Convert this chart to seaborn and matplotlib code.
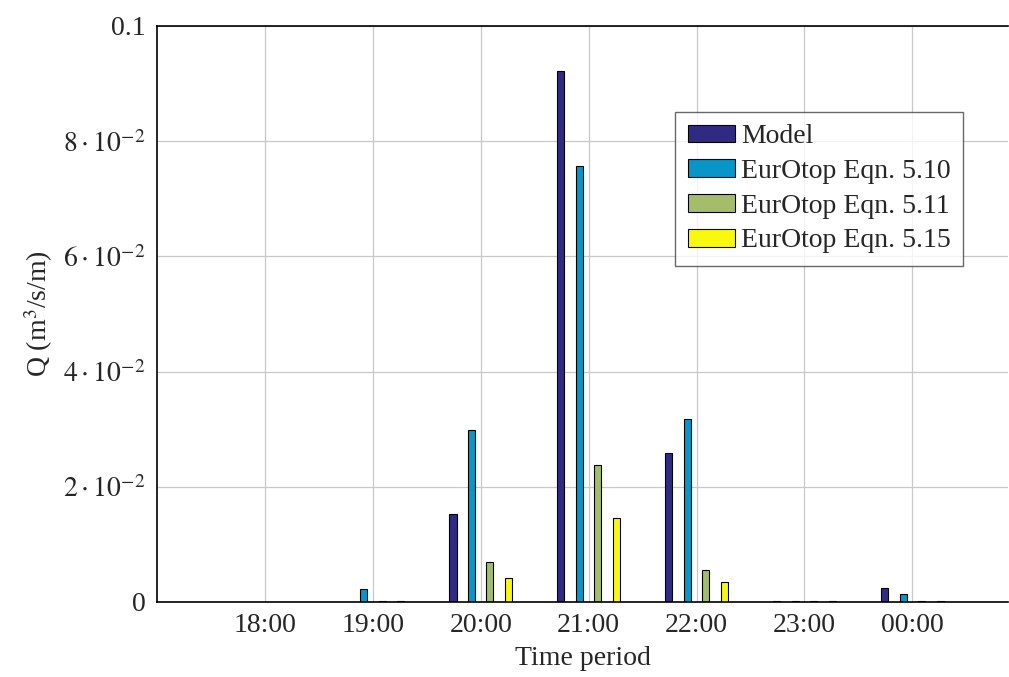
import numpy as np
import pandas as pd
import matplotlib
matplotlib.use("Agg")
import matplotlib.pyplot as plt
import seaborn as sns

# ------------- Data -------------
periods = ["18:00", "19:00", "20:00", "21:00", "22:00", "23:00", "00:00"]
series = ["Model", "EurOtop Eqn. 5.10", "EurOtop Eqn. 5.11", "EurOtop Eqn. 5.15"]
q_model = [0.0, 0.0, 0.0153, 0.0922, 0.0259, 0.0002, 0.0025]
q_510 = [0.0, 0.0023, 0.0299, 0.0757, 0.0317, 0.0002, 0.0014]
q_511 = [0.0, 0.0002, 0.0070, 0.0237, 0.0056, 0.0001, 0.0001]
q_515 = [0.0, 0.0002, 0.0041, 0.0145, 0.0034, 0.0001, 0.0001]
colors = ["#312a85", "#0896c8", "#a3bd6a", "#f9f90f"]

yticks = [0, 0.02, 0.04, 0.06, 0.08, 0.1]
ytick_labels = ["0", r"$2\cdot10^{-2}$", r"$4\cdot10^{-2}$",
                r"$6\cdot10^{-2}$", r"$8\cdot10^{-2}$", "0.1"]

df = pd.DataFrame({
    "period": periods * 4,
    "series": np.repeat(series, len(periods)),
    "Q": q_model + q_510 + q_511 + q_515,
})

# ------------- Plot -------------
sns.set_style("whitegrid")
plt.rcParams["font.family"] = ["Liberation Serif", "DejaVu Serif"]
plt.rcParams["mathtext.fontset"] = "stix"

fig = plt.figure(figsize=(10.09, 6.77), dpi=100)
ax = fig.add_axes([0.1556, 0.1108, 0.99 - 0.1556 + 0.0094, 0.9616 - 0.1108])

sns.barplot(data=df, x="period", y="Q", hue="series", order=periods,
            hue_order=series, palette=colors, saturation=1, width=0.685, gap=0.62,
            edgecolor="black", linewidth=0.8, ax=ax)

ax.set_xlim(-1, 6.89)
ax.set_ylim(0, 0.1)
ax.set_yticks(yticks)
ax.set_yticklabels(ytick_labels)
ax.tick_params(labelsize=20, length=0, pad=8)
ax.grid(True, color="#c8c8c8", linewidth=0.9)
ax.set_axisbelow(True)
for s in ax.spines.values():
    s.set_color("black")
    s.set_linewidth(1.2)
ax.spines["right"].set_visible(False)

ax.set_xlabel("Time period", fontsize=20, labelpad=6)
ax.set_ylabel(r"Q (m$^3$/s/m)", fontsize=20, labelpad=6)

leg = ax.legend(loc="upper left", bbox_to_anchor=(0.609, 0.851), fontsize=20,
                frameon=True, fancybox=False, edgecolor="#444444",
                handlelength=1.7, handleheight=0.6, handletextpad=0.2,
                labelspacing=0.35, borderpad=0.45, borderaxespad=0)
leg.get_frame().set_linewidth(1.0)

fig.savefig("out.png", dpi=100)
